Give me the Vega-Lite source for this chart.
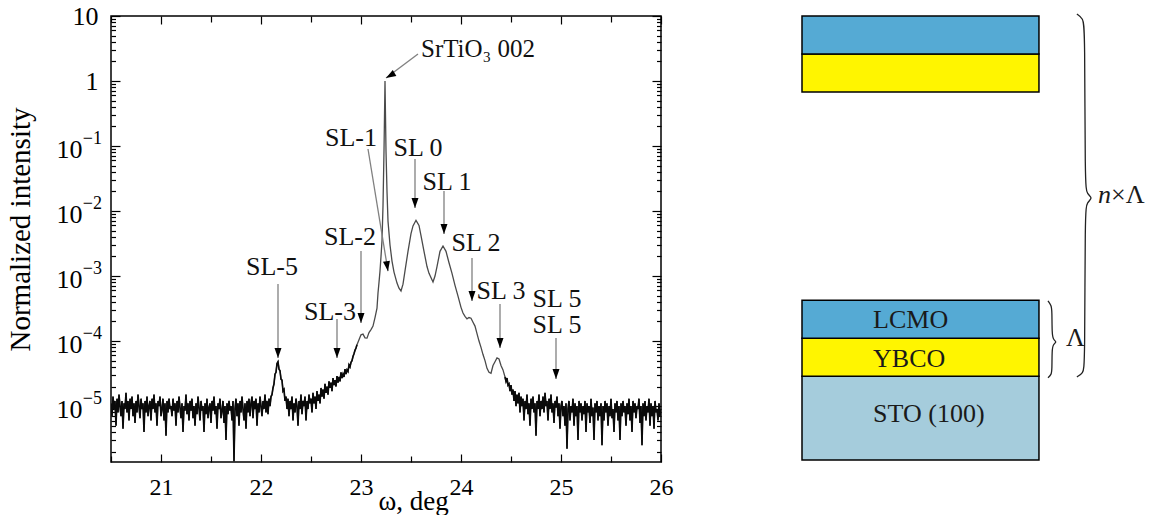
{
"$schema": "https://vega.github.io/schema/vega-lite/v6.json",
"padding": {"left": 5, "top": 2, "right": 0, "bottom": 0},
"spacing": 141,
"bounds": "flush",
"config": {
  "view": {"stroke": "#000", "strokeWidth": 1.5},
  "font": "Liberation Serif",
  "axis": {"labelFont": "Liberation Serif", "titleFont": "Liberation Serif", "labelFontSize": 26, "titleFontSize": 26, "titleFontWeight": "normal", "labelColor": "#000", "titleColor": "#000", "domain": false, "tickColor": "#000", "tickWidth": 1.2, "grid": false, "labelOverlap": false, "labelFlush": false, "labelBound": false}
},
"datasets": {
  "curve": [
    {"w":20.50,"I":11e-6},{"w":20.51,"I":7e-6},{"w":20.52,"I":14e-6},{"w":20.53,"I":9e-6},{"w":20.54,"I":12e-6},{"w":20.55,"I":5e-6},{"w":20.56,"I":13e-6},{"w":20.57,"I":8e-6},{"w":20.58,"I":15e-6},{"w":20.59,"I":10e-6},
    {"w":20.60,"I":7e-6},{"w":20.61,"I":12e-6},{"w":20.62,"I":4.5e-6},{"w":20.63,"I":11e-6},{"w":20.64,"I":9e-6},{"w":20.65,"I":16e-6},{"w":20.66,"I":8e-6},{"w":20.67,"I":12e-6},{"w":20.68,"I":6e-6},{"w":20.69,"I":13e-6},
    {"w":20.70,"I":9e-6},{"w":20.71,"I":14e-6},{"w":20.72,"I":7e-6},{"w":20.73,"I":11e-6},{"w":20.74,"I":5.5e-6},{"w":20.75,"I":12e-6},{"w":20.76,"I":8e-6},{"w":20.77,"I":15e-6},{"w":20.78,"I":10e-6},{"w":20.79,"I":6.5e-6},
    {"w":20.80,"I":13e-6},{"w":20.81,"I":9e-6},{"w":20.82,"I":11e-6},{"w":20.83,"I":4e-6},{"w":20.84,"I":12e-6},{"w":20.85,"I":8e-6},{"w":20.86,"I":14e-6},{"w":20.87,"I":7e-6},{"w":20.88,"I":10e-6},{"w":20.89,"I":12e-6},
    {"w":20.90,"I":6e-6},{"w":20.91,"I":13e-6},{"w":20.92,"I":9e-6},{"w":20.93,"I":15e-6},{"w":20.94,"I":8e-6},{"w":20.95,"I":11e-6},{"w":20.96,"I":5e-6},{"w":20.97,"I":12e-6},{"w":20.98,"I":10e-6},{"w":20.99,"I":14e-6},
    {"w":21.00,"I":7e-6},{"w":21.01,"I":9e-6},{"w":21.02,"I":13e-6},{"w":21.03,"I":6e-6},{"w":21.04,"I":11e-6},{"w":21.05,"I":3.5e-6},{"w":21.06,"I":12e-6},{"w":21.07,"I":8e-6},{"w":21.08,"I":13e-6},{"w":21.09,"I":9e-6},
    {"w":21.10,"I":10e-6},{"w":21.11,"I":7e-6},{"w":21.12,"I":13e-6},{"w":21.13,"I":8.5e-6},{"w":21.14,"I":11e-6},{"w":21.15,"I":5e-6},{"w":21.16,"I":12e-6},{"w":21.17,"I":8e-6},{"w":21.18,"I":14e-6},{"w":21.19,"I":9.5e-6},
    {"w":21.20,"I":6.5e-6},{"w":21.21,"I":11e-6},{"w":21.22,"I":4e-6},{"w":21.23,"I":10e-6},{"w":21.24,"I":8.5e-6},{"w":21.25,"I":15e-6},{"w":21.26,"I":7.5e-6},{"w":21.27,"I":11e-6},{"w":21.28,"I":6e-6},{"w":21.29,"I":12e-6},
    {"w":21.30,"I":8.5e-6},{"w":21.31,"I":13e-6},{"w":21.32,"I":6.5e-6},{"w":21.33,"I":10e-6},{"w":21.34,"I":5e-6},{"w":21.35,"I":11e-6},{"w":21.36,"I":7.5e-6},{"w":21.37,"I":14e-6},{"w":21.38,"I":9.5e-6},{"w":21.39,"I":6e-6},
    {"w":21.40,"I":12e-6},{"w":21.41,"I":8.5e-6},{"w":21.42,"I":10e-6},{"w":21.43,"I":4e-6},{"w":21.44,"I":11e-6},{"w":21.45,"I":7.5e-6},{"w":21.46,"I":13e-6},{"w":21.47,"I":6.5e-6},{"w":21.48,"I":9.5e-6},{"w":21.49,"I":11e-6},
    {"w":21.50,"I":5.5e-6},{"w":21.51,"I":12e-6},{"w":21.52,"I":8.5e-6},{"w":21.53,"I":14e-6},{"w":21.54,"I":7.5e-6},{"w":21.55,"I":10e-6},{"w":21.56,"I":4.5e-6},{"w":21.57,"I":11e-6},{"w":21.58,"I":9e-6},{"w":21.59,"I":13e-6},
    {"w":21.60,"I":6.5e-6},{"w":21.61,"I":8.5e-6},{"w":21.62,"I":12e-6},{"w":21.63,"I":5.5e-6},{"w":21.64,"I":10e-6},{"w":21.65,"I":3e-6},{"w":21.66,"I":11e-6},{"w":21.67,"I":7.5e-6},{"w":21.68,"I":12e-6},{"w":21.69,"I":8.5e-6},
    {"w":21.70,"I":10e-6},{"w":21.71,"I":6e-6},{"w":21.72,"I":12e-6},{"w":21.73,"I":1.4e-6},{"w":21.74,"I":9e-6},{"w":21.75,"I":13e-6},{"w":21.76,"I":7e-6},{"w":21.77,"I":11e-6},{"w":21.78,"I":5e-6},{"w":21.79,"I":12e-6},
    {"w":21.80,"I":8e-6},{"w":21.81,"I":14e-6},{"w":21.82,"I":9e-6},{"w":21.83,"I":6e-6},{"w":21.84,"I":11e-6},{"w":21.85,"I":4.5e-6},{"w":21.86,"I":12e-6},{"w":21.87,"I":8e-6},{"w":21.88,"I":13e-6},{"w":21.89,"I":7e-6},
    {"w":21.90,"I":11e-6},{"w":21.91,"I":14e-6},{"w":21.92,"I":6.5e-6},{"w":21.93,"I":12e-6},{"w":21.94,"I":9e-6},{"w":21.95,"I":13e-6},{"w":21.96,"I":5e-6},{"w":21.97,"I":11e-6},{"w":21.98,"I":8e-6},{"w":21.99,"I":14e-6},
    {"w":22.00,"I":10e-6},{"w":22.01,"I":7e-6},{"w":22.02,"I":12e-6},{"w":22.03,"I":9e-6},{"w":22.04,"I":15e-6},{"w":22.05,"I":8e-6},{"w":22.06,"I":12e-6},{"w":22.07,"I":7.5e-6},{"w":22.08,"I":13e-6},{"w":22.09,"I":10e-6},
    {"w":22.10,"I":14e-6},{"w":22.11,"I":15e-6},{"w":22.12,"I":19e-6},{"w":22.13,"I":22e-6},{"w":22.14,"I":31e-6},{"w":22.15,"I":33e-6},{"w":22.16,"I":45e-6},{"w":22.17,"I":48e-6},{"w":22.18,"I":37e-6},{"w":22.19,"I":35e-6},
    {"w":22.20,"I":26e-6},{"w":22.21,"I":25e-6},{"w":22.22,"I":17e-6},{"w":22.23,"I":18e-6},{"w":22.24,"I":12e-6},{"w":22.25,"I":14e-6},{"w":22.26,"I":9e-6},{"w":22.27,"I":13e-6},{"w":22.28,"I":7e-6},{"w":22.29,"I":12e-6},
    {"w":22.30,"I":9e-6},{"w":22.31,"I":14e-6},{"w":22.32,"I":6e-6},{"w":22.33,"I":11e-6},{"w":22.34,"I":8e-6},{"w":22.35,"I":13e-6},{"w":22.36,"I":10e-6},{"w":22.37,"I":5e-6},{"w":22.38,"I":12e-6},{"w":22.39,"I":9e-6},
    {"w":22.40,"I":15e-6},{"w":22.41,"I":7.5e-6},{"w":22.42,"I":12e-6},{"w":22.43,"I":10e-6},{"w":22.44,"I":14e-6},{"w":22.45,"I":6e-6},{"w":22.46,"I":12e-6},{"w":22.47,"I":9e-6},{"w":22.48,"I":15e-6},{"w":22.49,"I":11e-6},
    {"w":22.50,"I":13e-6},{"w":22.51,"I":8e-6},{"w":22.52,"I":16e-6},{"w":22.53,"I":11e-6},{"w":22.54,"I":14e-6},{"w":22.55,"I":9e-6},{"w":22.56,"I":17e-6},{"w":22.57,"I":12e-6},{"w":22.58,"I":15e-6},{"w":22.59,"I":11e-6},
    {"w":22.60,"I":19e-6},{"w":22.61,"I":14e-6},{"w":22.62,"I":18e-6},{"w":22.63,"I":13e-6},{"w":22.64,"I":22e-6},{"w":22.65,"I":16e-6},{"w":22.66,"I":20e-6},{"w":22.67,"I":15e-6},{"w":22.68,"I":24e-6},{"w":22.69,"I":19e-6},
    {"w":22.70,"I":23e-6},{"w":22.71,"I":17e-6},{"w":22.72,"I":27e-6},{"w":22.73,"I":21e-6},{"w":22.74,"I":25e-6},{"w":22.75,"I":20e-6},{"w":22.76,"I":29e-6},{"w":22.77,"I":23e-6},{"w":22.78,"I":28e-6},{"w":22.79,"I":24e-6},
    {"w":22.80,"I":33e-6},{"w":22.81,"I":27e-6},{"w":22.82,"I":31e-6},{"w":22.83,"I":28e-6},{"w":22.84,"I":37e-6},{"w":22.85,"I":31e-6},{"w":22.86,"I":36e-6},{"w":22.87,"I":34e-6},{"w":22.88,"I":43e-6},{"w":22.89,"I":40e-6},
    {"w":22.90,"I":47e-6},{"w":22.91,"I":50e-6},{"w":22.92,"I":58e-6},{"w":22.93,"I":64e-6},{"w":22.94,"I":72e-6},{"w":22.95,"I":78e-6},{"w":22.96,"I":88e-6},
    {"w":22.98,"I":105e-6},{"w":23.00,"I":125e-6},{"w":23.02,"I":128e-6},{"w":23.04,"I":112e-6},
    {"w":23.06,"I":111e-6},{"w":23.08,"I":135e-6},{"w":23.10,"I":150e-6},{"w":23.12,"I":170e-6},{"w":23.14,"I":230e-6},{"w":23.16,"I":320e-6},{"w":23.17,"I":550e-6},{"w":23.18,"I":800e-6},{"w":23.19,"I":1190e-6},{"w":23.20,"I":2000e-6},
    {"w":23.21,"I":3500e-6},{"w":23.22,"I":12000e-6},{"w":23.23,"I":0.084},{"w":23.24,"I":1.0},{"w":23.25,"I":0.084},{"w":23.26,"I":0.02},{"w":23.27,"I":0.007},{"w":23.29,"I":0.003},{"w":23.31,"I":0.0017},{"w":23.33,"I":0.00115},
    {"w":23.36,"I":0.00078},{"w":23.38,"I":0.00065},{"w":23.40,"I":0.00059},{"w":23.42,"I":0.00075},{"w":23.44,"I":0.0012},{"w":23.47,"I":0.0024},{"w":23.50,"I":0.0045},{"w":23.52,"I":0.0059},{"w":23.55,"I":0.0072},{"w":23.58,"I":0.006},
    {"w":23.60,"I":0.0042},{"w":23.63,"I":0.0024},{"w":23.66,"I":0.0014},{"w":23.68,"I":0.0011},{"w":23.72,"I":0.00081},{"w":23.74,"I":0.001},{"w":23.76,"I":0.0014},{"w":23.79,"I":0.0024},{"w":23.82,"I":0.0029},{"w":23.85,"I":0.0024},
    {"w":23.88,"I":0.0016},{"w":23.91,"I":0.0011},{"w":23.94,"I":0.00072},{"w":23.97,"I":0.00049},{"w":24.00,"I":0.00033},{"w":24.02,"I":0.00027},{"w":24.04,"I":0.00024},{"w":24.06,"I":0.00022},{"w":24.08,"I":0.00023},{"w":24.10,"I":0.000225},
    {"w":24.12,"I":0.000195},{"w":24.14,"I":0.00017},{"w":24.16,"I":0.00013},{"w":24.18,"I":0.0001},{"w":24.20,"I":80e-6},{"w":24.22,"I":62e-6},{"w":24.24,"I":50e-6},{"w":24.26,"I":38e-6},{"w":24.28,"I":33e-6},{"w":24.30,"I":32e-6},
    {"w":24.32,"I":42e-6},{"w":24.34,"I":48e-6},{"w":24.36,"I":55e-6},{"w":24.38,"I":53e-6},{"w":24.40,"I":42e-6},{"w":24.42,"I":36e-6},
    {"w":24.44,"I":28e-6},{"w":24.45,"I":24e-6},{"w":24.46,"I":27e-6},{"w":24.47,"I":21e-6},{"w":24.48,"I":22e-6},{"w":24.49,"I":17e-6},{"w":24.50,"I":21e-6},{"w":24.51,"I":15e-6},{"w":24.52,"I":18e-6},{"w":24.53,"I":12e-6},
    {"w":24.54,"I":17e-6},{"w":24.55,"I":10e-6},{"w":24.56,"I":15e-6},{"w":24.57,"I":11e-6},{"w":24.58,"I":16e-6},{"w":24.59,"I":8e-6},{"w":24.60,"I":14e-6},
    {"w":24.61,"I":10e-6},{"w":24.62,"I":13e-6},{"w":24.63,"I":6e-6},{"w":24.64,"I":12e-6},{"w":24.65,"I":9e-6},{"w":24.66,"I":15e-6},{"w":24.67,"I":7.5e-6},{"w":24.68,"I":11e-6},{"w":24.69,"I":5e-6},{"w":24.70,"I":13e-6},
    {"w":24.71,"I":9e-6},{"w":24.72,"I":14e-6},{"w":24.73,"I":8e-6},{"w":24.74,"I":11e-6},{"w":24.75,"I":3.5e-6},{"w":24.76,"I":12e-6},{"w":24.77,"I":9e-6},{"w":24.78,"I":15e-6},{"w":24.79,"I":7e-6},{"w":24.80,"I":12e-6},
    {"w":24.81,"I":9e-6},{"w":24.82,"I":14e-6},{"w":24.83,"I":8e-6},{"w":24.84,"I":16e-6},{"w":24.85,"I":10e-6},{"w":24.86,"I":12e-6},{"w":24.87,"I":6e-6},{"w":24.88,"I":13e-6},{"w":24.89,"I":9e-6},{"w":24.90,"I":15e-6},
    {"w":24.91,"I":8e-6},{"w":24.92,"I":11e-6},{"w":24.93,"I":5.5e-6},{"w":24.94,"I":12e-6},{"w":24.95,"I":9.5e-6},{"w":24.96,"I":14e-6},{"w":24.97,"I":7e-6},{"w":24.98,"I":11e-6},{"w":24.99,"I":4.5e-6},{"w":25.00,"I":10e-6},
    {"w":25.01,"I":12e-6},{"w":25.02,"I":7e-6},{"w":25.03,"I":10e-6},{"w":25.04,"I":5e-6},{"w":25.05,"I":11e-6},{"w":25.06,"I":2.2e-6},{"w":25.07,"I":9e-6},{"w":25.08,"I":12e-6},{"w":25.09,"I":6e-6},{"w":25.10,"I":10e-6},
    {"w":25.11,"I":8e-6},{"w":25.12,"I":13e-6},{"w":25.13,"I":5e-6},{"w":25.14,"I":11e-6},{"w":25.15,"I":7e-6},{"w":25.16,"I":10e-6},{"w":25.17,"I":3e-6},{"w":25.18,"I":12e-6},{"w":25.19,"I":8e-6},{"w":25.20,"I":11e-6},
    {"w":25.21,"I":6e-6},{"w":25.22,"I":10e-6},{"w":25.23,"I":7.5e-6},{"w":25.24,"I":12e-6},{"w":25.25,"I":4e-6},{"w":25.26,"I":11e-6},{"w":25.27,"I":8e-6},{"w":25.28,"I":10e-6},{"w":25.29,"I":5.5e-6},{"w":25.30,"I":13e-6},
    {"w":25.31,"I":7e-6},{"w":25.32,"I":9.5e-6},{"w":25.33,"I":3e-6},{"w":25.34,"I":11e-6},{"w":25.35,"I":8e-6},{"w":25.36,"I":12e-6},{"w":25.37,"I":6e-6},{"w":25.38,"I":10e-6},{"w":25.39,"I":7e-6},{"w":25.40,"I":11e-6},
    {"w":25.41,"I":2.5e-6},{"w":25.42,"I":10e-6},{"w":25.43,"I":6e-6},{"w":25.44,"I":12e-6},{"w":25.45,"I":8e-6},{"w":25.46,"I":11e-6},{"w":25.47,"I":5e-6},{"w":25.48,"I":10e-6},{"w":25.49,"I":7e-6},{"w":25.50,"I":13e-6},
    {"w":25.51,"I":6.5e-6},{"w":25.52,"I":9e-6},{"w":25.53,"I":4e-6},{"w":25.54,"I":11e-6},{"w":25.55,"I":8e-6},{"w":25.56,"I":12e-6},{"w":25.57,"I":6e-6},{"w":25.58,"I":10e-6},{"w":25.59,"I":3e-6},{"w":25.60,"I":11e-6},
    {"w":25.61,"I":7e-6},{"w":25.62,"I":12e-6},{"w":25.63,"I":8e-6},{"w":25.64,"I":10e-6},{"w":25.65,"I":5e-6},{"w":25.66,"I":11e-6},{"w":25.67,"I":7.5e-6},{"w":25.68,"I":13e-6},{"w":25.69,"I":6e-6},{"w":25.70,"I":10e-6},
    {"w":25.71,"I":4e-6},{"w":25.72,"I":12e-6},{"w":25.73,"I":8e-6},{"w":25.74,"I":11e-6},{"w":25.75,"I":6.5e-6},{"w":25.76,"I":10e-6},{"w":25.77,"I":9e-6},{"w":25.78,"I":13e-6},{"w":25.79,"I":5.5e-6},{"w":25.80,"I":10e-6},
    {"w":25.81,"I":2.5e-6},{"w":25.82,"I":11e-6},{"w":25.83,"I":7e-6},{"w":25.84,"I":12e-6},{"w":25.85,"I":6e-6},{"w":25.86,"I":10e-6},{"w":25.87,"I":8e-6},{"w":25.88,"I":13e-6},{"w":25.89,"I":5e-6},{"w":25.90,"I":11e-6},
    {"w":25.91,"I":7e-6},{"w":25.92,"I":10e-6},{"w":25.93,"I":4.5e-6},{"w":25.94,"I":12e-6},{"w":25.95,"I":8e-6},{"w":25.96,"I":9e-6},{"w":25.97,"I":6e-6},{"w":25.98,"I":11e-6},{"w":25.99,"I":7e-6},{"w":26.00,"I":9e-6}
  ],
  "arrows": [
    {"label":"SL-5","x0":22.17,"y0":7.53e-4,"x1":22.17,"y1":5.47e-5},
    {"label":"SL-3","x0":22.76,"y0":2.18e-4,"x1":22.76,"y1":5.47e-5},
    {"label":"SL-2","x0":23.00,"y0":2.43e-3,"x1":23.00,"y1":1.89e-4},
    {"label":"SL-1","x0":23.07,"y0":0.09,"x1":23.27,"y1":1.19e-3},
    {"label":"SL 0","x0":23.54,"y0":0.063,"x1":23.54,"y1":0.0111},
    {"label":"SL 1","x0":23.83,"y0":0.0203,"x1":23.83,"y1":4.43e-3},
    {"label":"SL 2","x0":24.11,"y0":1.89e-3,"x1":24.11,"y1":4.12e-4},
    {"label":"SL 3","x0":24.39,"y0":3.71e-4,"x1":24.39,"y1":7.8e-5},
    {"label":"SL 5","x0":24.95,"y0":1.11e-4,"x1":24.95,"y1":2.6e-5},
    {"label":"SrTiO3","x0":23.57,"y0":2.6,"x1":23.25,"y1":1.11}
  ],
  "labels": [
    {"t":"SL-5","x":22.11,"y":1.37e-3},
    {"t":"SL-3","x":22.69,"y":2.79e-4},
    {"t":"SL-2","x":22.89,"y":3.98e-3},
    {"t":"SL-1","x":22.90,"y":0.133},
    {"t":"SL 0","x":23.57,"y":0.093},
    {"t":"SL 1","x":23.86,"y":0.0279},
    {"t":"SL 2","x":24.15,"y":3.22e-3},
    {"t":"SL 3","x":24.40,"y":5.87e-4},
    {"t":"SL 5","x":24.96,"y":4.43e-4},
    {"t":"SL 5","x":24.96,"y":1.76e-4}
  ],
  "exponents": [
    {"v":0.1,"e":"−1"},{"v":0.01,"e":"−2"},{"v":0.001,"e":"−3"},{"v":1e-4,"e":"−4"},{"v":1e-5,"e":"−5"}
  ],
  "stack": [
    {"name":"STO","y0":0.05,"y1":2.26},
    {"name":"YBCO","y0":2.26,"y1":3.26},
    {"name":"LCMO","y0":3.26,"y1":4.26},
    {"name":"YBCO","y0":9.74,"y1":10.74},
    {"name":"LCMO","y0":10.74,"y1":11.74}
  ],
  "stackText": [
    {"t":"LCMO","y":3.74},
    {"t":"YBCO","y":2.70},
    {"t":"STO (100)","y":1.26}
  ],
  "braces": [
    {"b":"big","i":0,"x":1.160,"y":11.79},{"b":"big","i":1,"x":1.186,"y":11.68},{"b":"big","i":2,"x":1.194,"y":11.42},{"b":"big","i":3,"x":1.194,"y":7.26},{"b":"big","i":4,"x":1.203,"y":7.05},{"b":"big","i":5,"x":1.228,"y":6.95},{"b":"big","i":6,"x":1.203,"y":6.84},{"b":"big","i":7,"x":1.194,"y":6.63},{"b":"big","i":8,"x":1.194,"y":2.53},{"b":"big","i":9,"x":1.186,"y":2.34},{"b":"big","i":10,"x":1.160,"y":2.24},
    {"b":"small","i":0,"x":1.038,"y":4.24},{"b":"small","i":1,"x":1.052,"y":4.12},{"b":"small","i":2,"x":1.055,"y":3.98},{"b":"small","i":3,"x":1.055,"y":3.38},{"b":"small","i":4,"x":1.060,"y":3.22},{"b":"small","i":5,"x":1.076,"y":3.16},{"b":"small","i":6,"x":1.060,"y":3.10},{"b":"small","i":7,"x":1.055,"y":2.96},{"b":"small","i":8,"x":1.055,"y":2.42},{"b":"small","i":9,"x":1.052,"y":2.30},{"b":"small","i":10,"x":1.038,"y":2.22}
  ]
},
"hconcat": [
  {
    "width": 550, "height": 446,
    "resolve": {"axis": {"x": "independent", "y": "independent"}},
    "layer": [
      {
        "data": {"name": "curve"},
        "mark": {"type": "line", "color": "#4a4a4a", "strokeWidth": 1.3, "clip": true},
        "encoding": {
          "x": {"field": "w", "type": "quantitative", "scale": {"domain": [20.5, 26], "nice": false, "zero": false},
                "axis": {"orient": "bottom", "values": [20.5,21,21.5,22,22.5,23,23.5,24,24.5,25,25.5,26],
                         "labelExpr": "datum.value % 1 == 0 ? format(datum.value, 'd') : ''",
                         "labelFontSize": 24,
                         "tickSize": {"condition": {"test": "datum.value % 1 == 0", "value": -8}, "value": -6},
                         "labelPadding": 21,
                         "title": "ω, deg", "titleFontSize": 27, "titleX": 302, "titleY": 47, "titleBaseline": "alphabetic", "titleAlign": "center"}},
          "y": {"field": "I", "type": "quantitative", "scale": {"type": "log", "domain": [1.38e-6, 10], "nice": false},
                "axis": {"orient": "left",
                         "values": [2e-6,3e-6,4e-6,5e-6,6e-6,7e-6,8e-6,9e-6,1e-5,2e-5,3e-5,4e-5,5e-5,6e-5,7e-5,8e-5,9e-5,1e-4,2e-4,3e-4,4e-4,5e-4,6e-4,7e-4,8e-4,9e-4,0.001,0.002,0.003,0.004,0.005,0.006,0.007,0.008,0.009,0.01,0.02,0.03,0.04,0.05,0.06,0.07,0.08,0.09,0.1,0.2,0.3,0.4,0.5,0.6,0.7,0.8,0.9,1,2,3,4,5,6,7,8,9,10],
                         "labelExpr": "abs(log(datum.value)/LN10 - round(log(datum.value)/LN10)) < 0.01 ? format(datum.value >= 1 ? datum.value : 10, 'd') : ''",
                         "tickSize": {"condition": {"test": "abs(log(datum.value)/LN10 - round(log(datum.value)/LN10)) < 0.01", "value": -9}, "value": -4.5},
                         "labelPadding": {"condition": {"test": "datum.value >= 1", "value": 22}, "value": 38},
                         "labelOffset": {"condition": {"test": "datum.value >= 1", "value": 0}, "value": 3},
                         "labelBaseline": "middle",
                         "title": "Normalized intensity", "titleFontSize": 29, "titleX": -91, "titleY": 213, "titleAngle": 270, "titleAlign": "center", "titleBaseline": "middle"}}
        }
      },
      {
        "data": {"name": "curve"},
        "transform": [{"filter": "datum.w <= 22.96"}],
        "mark": {"type": "line", "color": "#0a0a0a", "strokeWidth": 1.6, "clip": true},
        "encoding": {
          "x": {"field": "w", "type": "quantitative", "scale": {"domain": [20.5, 26], "nice": false, "zero": false}, "axis": null},
          "y": {"field": "I", "type": "quantitative", "scale": {"type": "log", "domain": [1.38e-6, 10], "nice": false}, "axis": null}
        }
      },
      {
        "data": {"name": "curve"},
        "transform": [{"filter": "datum.w >= 24.44"}],
        "mark": {"type": "line", "color": "#0a0a0a", "strokeWidth": 1.6, "clip": true},
        "encoding": {
          "x": {"field": "w", "type": "quantitative", "scale": {"domain": [20.5, 26], "nice": false, "zero": false}, "axis": null},
          "y": {"field": "I", "type": "quantitative", "scale": {"type": "log", "domain": [1.38e-6, 10], "nice": false}, "axis": null}
        }
      },
      {
        "data": {"name": "exponents"},
        "mark": {"type": "text", "font": "Liberation Serif", "fontSize": 18, "align": "right", "baseline": "middle", "color": "#000", "dx": -9, "dy": -7, "clip": false},
        "encoding": {
          "x": {"datum": 20.5, "type": "quantitative", "scale": {"domain": [20.5, 26], "nice": false, "zero": false}, "axis": null},
          "y": {"field": "v", "type": "quantitative", "scale": {"type": "log", "domain": [1.38e-6, 10], "nice": false}, "axis": null},
          "text": {"field": "e"}
        }
      },
      {
        "data": {"name": "arrows"},
        "mark": {"type": "rule", "color": "#808080", "strokeWidth": 1.3},
        "encoding": {
          "x": {"field": "x0", "type": "quantitative", "scale": {"domain": [20.5, 26], "nice": false, "zero": false},
                "axis": {"orient": "top", "values": [20.5,21,21.5,22,22.5,23,23.5,24,24.5,25,25.5,26], "labels": false, "title": null,
                         "tickSize": {"condition": {"test": "datum.value % 1 == 0", "value": -8}, "value": -6}}},
          "y": {"field": "y0", "type": "quantitative", "scale": {"type": "log", "domain": [1.38e-6, 10], "nice": false},
                "axis": {"orient": "right", "labels": false, "title": null,
                         "values": [2e-6,3e-6,4e-6,5e-6,6e-6,7e-6,8e-6,9e-6,1e-5,2e-5,3e-5,4e-5,5e-5,6e-5,7e-5,8e-5,9e-5,1e-4,2e-4,3e-4,4e-4,5e-4,6e-4,7e-4,8e-4,9e-4,0.001,0.002,0.003,0.004,0.005,0.006,0.007,0.008,0.009,0.01,0.02,0.03,0.04,0.05,0.06,0.07,0.08,0.09,0.1,0.2,0.3,0.4,0.5,0.6,0.7,0.8,0.9,1,2,3,4,5,6,7,8,9,10],
                         "tickSize": {"condition": {"test": "abs(log(datum.value)/LN10 - round(log(datum.value)/LN10)) < 0.01", "value": -9}, "value": -4.5}}},
          "x2": {"field": "x1"},
          "y2": {"field": "y1"}
        }
      },
      {
        "data": {"name": "arrows"},
        "transform": [{"filter": "datum.label != 'SL-1' && datum.label != 'SrTiO3'"}],
        "mark": {"type": "point", "shape": "M0,0L-0.35,-1L0.35,-1Z", "filled": true, "color": "#000", "opacity": 1, "size": 400, "strokeWidth": 0},
        "encoding": {
          "x": {"field": "x1", "type": "quantitative", "scale": {"domain": [20.5, 26], "nice": false, "zero": false}, "axis": null},
          "y": {"field": "y1", "type": "quantitative", "scale": {"type": "log", "domain": [1.38e-6, 10], "nice": false}, "axis": null}
        }
      },
      {
        "data": {"name": "arrows"},
        "transform": [{"filter": "datum.label == 'SL-1'"}],
        "mark": {"type": "point", "shape": "M0,0L-0.35,-1L0.35,-1Z", "filled": true, "color": "#000", "opacity": 1, "size": 400, "strokeWidth": 0, "angle": 351},
        "encoding": {
          "x": {"field": "x1", "type": "quantitative", "scale": {"domain": [20.5, 26], "nice": false, "zero": false}, "axis": null},
          "y": {"field": "y1", "type": "quantitative", "scale": {"type": "log", "domain": [1.38e-6, 10], "nice": false}, "axis": null}
        }
      },
      {
        "data": {"name": "arrows"},
        "transform": [{"filter": "datum.label == 'SrTiO3'"}],
        "mark": {"type": "point", "shape": "M0,0L-0.35,-1L0.35,-1Z", "filled": true, "color": "#000", "opacity": 1, "size": 400, "strokeWidth": 0, "angle": 59},
        "encoding": {
          "x": {"field": "x1", "type": "quantitative", "scale": {"domain": [20.5, 26], "nice": false, "zero": false}, "axis": null},
          "y": {"field": "y1", "type": "quantitative", "scale": {"type": "log", "domain": [1.38e-6, 10], "nice": false}, "axis": null}
        }
      },
      {
        "data": {"name": "labels"},
        "mark": {"type": "text", "font": "Liberation Serif", "fontSize": 26, "align": "center", "baseline": "middle", "color": "#111"},
        "encoding": {
          "x": {"field": "x", "type": "quantitative", "scale": {"domain": [20.5, 26], "nice": false, "zero": false}, "axis": null},
          "y": {"field": "y", "type": "quantitative", "scale": {"type": "log", "domain": [1.38e-6, 10], "nice": false}, "axis": null},
          "text": {"field": "t"}
        }
      },
      {
        "data": {"values": [{"t": "SrTiO₃ 002", "x": 23.6, "y": 3.1}]},
        "mark": {"type": "text", "font": "Liberation Serif", "fontSize": 25, "align": "left", "baseline": "middle", "color": "#111"},
        "encoding": {
          "x": {"field": "x", "type": "quantitative", "scale": {"domain": [20.5, 26], "nice": false, "zero": false}, "axis": null},
          "y": {"field": "y", "type": "quantitative", "scale": {"type": "log", "domain": [1.38e-6, 10], "nice": false}, "axis": null},
          "text": {"field": "t"}
        }
      }
    ]
  },
  {
    "width": 350, "height": 446,
    "view": {"stroke": null},
    "layer": [
      {
        "data": {"name": "stack"},
        "mark": {"type": "rect", "stroke": "#000", "strokeWidth": 1.5},
        "encoding": {
          "x": {"datum": 0, "type": "quantitative", "scale": {"domain": [0, 1.477], "nice": false, "zero": false}, "axis": null},
          "x2": {"datum": 1},
          "y": {"field": "y0", "type": "quantitative", "scale": {"domain": [0, 11.74], "nice": false, "zero": false}, "axis": null},
          "y2": {"field": "y1"},
          "color": {"field": "name", "type": "nominal", "scale": {"domain": ["LCMO", "YBCO", "STO"], "range": ["#55AAD4", "#FFF500", "#A5CCDC"]}, "legend": null}
        }
      },
      {
        "data": {"name": "stackText"},
        "mark": {"type": "text", "font": "Liberation Serif", "fontSize": 26, "align": "left", "baseline": "middle", "color": "#1a1a1a"},
        "encoding": {
          "x": {"datum": 0.30, "type": "quantitative"},
          "y": {"field": "y", "type": "quantitative"},
          "text": {"field": "t"}
        }
      },
      {
        "mark": {"type": "rule", "color": "#000", "strokeWidth": 1.5, "strokeDash": [6, 4]},
        "encoding": {"x": {"datum": 0, "type": "quantitative"}, "y": {"datum": 4.26, "type": "quantitative"}, "y2": {"datum": 9.74}}
      },
      {
        "mark": {"type": "rule", "color": "#000", "strokeWidth": 1.5, "strokeDash": [6, 4]},
        "encoding": {"x": {"datum": 1, "type": "quantitative"}, "y": {"datum": 4.26, "type": "quantitative"}, "y2": {"datum": 9.74}}
      },
      {
        "data": {"name": "braces"},
        "mark": {"type": "line", "color": "#222", "strokeWidth": 1.3, "interpolate": "basis"},
        "encoding": {
          "x": {"field": "x", "type": "quantitative"},
          "y": {"field": "y", "type": "quantitative"},
          "detail": {"field": "b"},
          "order": {"field": "i", "type": "quantitative"}
        }
      },
      {
        "data": {"values": [{"t": "Λ", "x": 1.114, "y": 3.26}, {"t": "×Λ", "x": 1.304, "y": 7.03}]},
        "mark": {"type": "text", "font": "Liberation Serif", "fontSize": 26, "align": "left", "baseline": "middle", "color": "#1a1a1a"},
        "encoding": {"x": {"field": "x", "type": "quantitative"}, "y": {"field": "y", "type": "quantitative"}, "text": {"field": "t"}}
      },
      {
        "data": {"values": [{"t": "n", "x": 1.249, "y": 7.03}]},
        "mark": {"type": "text", "font": "Liberation Serif", "fontSize": 26, "fontStyle": "italic", "align": "left", "baseline": "middle", "color": "#1a1a1a"},
        "encoding": {"x": {"field": "x", "type": "quantitative"}, "y": {"field": "y", "type": "quantitative"}, "text": {"field": "t"}}
      }
    ]
  }
]
}
